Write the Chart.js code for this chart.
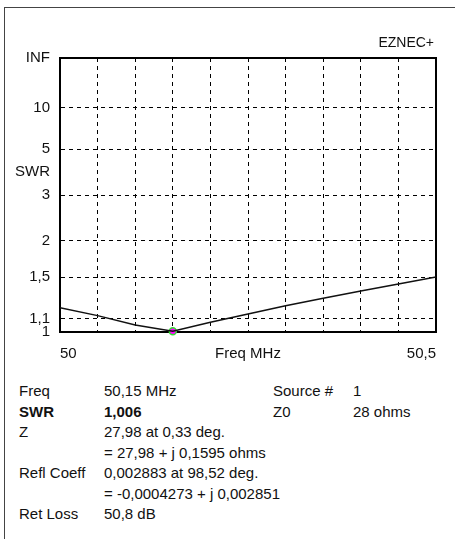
<!DOCTYPE html>
<html>
<head>
<meta charset="utf-8">
<script src="https://cdn.jsdelivr.net/npm/chart.js@4.4.1/dist/chart.umd.min.js"></script>
<style>
    html, body { margin: 0; padding: 0; background: #fff; }
    body { width: 455px; height: 539px; position: relative; overflow: hidden;
           font-family: "Liberation Sans", Arial, sans-serif; color: #111; }
    #frame { position: absolute; left: 4px; top: 7px; width: 460px; height: 540px;
             border-left: 1.5px solid #444; border-top: 1.5px solid #444; }
    #brand { position: absolute; right: 21px; top: 34px; font-size: 14px; line-height: 16px; }
    #mainChart { position: absolute; left: 0; top: 0; }
    #info { position: absolute; left: 19px; top: 381px; font-size: 15px; line-height: 20.5px; }
    #info .row { position: relative; height: 20.5px; white-space: nowrap; }
    #info span { position: absolute; top: 0; }
    #info .b { font-weight: bold; }
</style>
</head>
<body>
<div id="frame"></div>
<canvas id="mainChart" width="455" height="370"></canvas>
<div id="brand">EZNEC+</div>
<div id="info"></div>

<script>
// Frequency sweep (MHz) and SWR
const freqs = [50, 50.05, 50.1, 50.15, 50.2, 50.25, 50.3, 50.35, 50.4, 50.45, 50.5];
const swrValues = [1.195, 1.127, 1.052, 1.006, 1.073, 1.141, 1.212, 1.281, 1.352, 1.425, 1.502];

// Cursor marker
const markerFreq = [50.15];
const markerSwr = [1.006];

// Y ticks (SWR values, INF = Infinity) and their labels
const yTickSwr = [Infinity, 10, 5, 3.81, 3, 2, 1.5, 1.1, 1];
const yTickLabels = ['INF', '10', '5', 'SWR', '3', '2', '1,5', '1,1', '1'];

// X tick labels keyed by frequency
const xTickFreqs = [50, 50.05, 50.1, 50.15, 50.2, 50.25, 50.3, 50.35, 50.4, 50.45, 50.5];
const xTickLabels = ['50', '', '', '', '', 'Freq MHz', '', '', '', '', '50,5'];

// Readout below the chart
const infoRows = [
    ['Freq', '50,15 MHz', 'Source #', '1'],
    ['SWR', '1,006', 'Z0', '28 ohms'],
    ['Z', '27,98 at 0,33 deg.', '', ''],
    ['', '= 27,98 + j 0,1595 ohms', '', ''],
    ['Refl Coeff', '0,002883 at 98,52 deg.', '', ''],
    ['', '= -0,0004273 + j 0,002851', '', ''],
    ['Ret Loss', '50,8 dB', '', '']
];

// EZNEC plots SWR on a reflection-coefficient scale
function rho(swr) {
    if (!isFinite(swr)) return 1;
    return (swr - 1) / (swr + 1);
}

document.addEventListener("DOMContentLoaded", () => {
    const info = document.getElementById('info');
    const colX = [0, 85, 254, 334];
    infoRows.forEach((r, i) => {
        const row = document.createElement('div');
        row.className = 'row';
        r.forEach((txt, c) => {
            if (!txt) return;
            const s = document.createElement('span');
            s.textContent = txt;
            s.style.left = colX[c] + 'px';
            if (i === 1 && c < 2) s.className = 'b';
            row.appendChild(s);
        });
        info.appendChild(row);
    });

    // plot frame, drawn under the curve and marker
    const frameBox = {
        id: 'frameBox',
        beforeDatasetsDraw(chart) {
            const a = chart.chartArea;
            const c = chart.ctx;
            c.save();
            c.setLineDash([]);
            c.strokeStyle = '#000';
            c.lineWidth = 2;
            c.strokeRect(a.left, a.top, a.right - a.left, a.bottom - a.top);
            c.restore();
        }
    };

    const ctx = document.getElementById('mainChart').getContext('2d');
    const tickFont = { family: '"Liberation Sans", Arial, sans-serif', size: 15 };

    new Chart(ctx, {
        type: 'line',
        data: {
            datasets: [{
                data: freqs.map((f, i) => ({ x: f, y: rho(swrValues[i]) })),
                borderColor: '#111',
                borderWidth: 1.5,
                pointRadius: 0,
                tension: 0,
                fill: false
            }, {
                data: markerFreq.map((f, i) => ({ x: f, y: rho(markerSwr[i]) })),
                borderColor: '#33dd33',
                backgroundColor: '#ff00ff',
                borderWidth: 1.5,
                pointRadius: 3.5,
                showLine: false,
                clip: false
            }]
        },
        options: {
            responsive: false,
            animation: false,
            layout: { padding: { left: 0, right: 19, top: 58, bottom: 0 } },
            plugins: { legend: { display: false }, tooltip: { enabled: false } },
            scales: {
                x: {
                    type: 'linear',
                    min: 50,
                    max: 50.5,
                    afterBuildTicks: s => { s.ticks = xTickFreqs.map(v => ({ value: v })); },
                    afterFit: s => { s.height = 38; },
                    grid: {
                        color: '#000',
                        lineWidth: 1,
                        drawTicks: false
                    },
                    border: { display: true, color: '#000', width: 1, dash: [4, 4] },
                    ticks: {
                        autoSkip: false,
                        maxRotation: 0,
                        align: 'inner',
                        padding: 13,
                        color: '#111',
                        font: tickFont,
                        callback: (v, i) => xTickLabels[i]
                    }
                },
                y: {
                    type: 'linear',
                    min: 0,
                    max: 1,
                    afterBuildTicks: s => { s.ticks = yTickSwr.map(v => ({ value: rho(v) })); },
                    afterFit: s => { s.width = 60; },
                    grid: {
                        color: c => (yTickLabels[c.index] === 'SWR' ? 'rgba(0,0,0,0)' : '#000'),
                        lineWidth: 1,
                        drawTicks: false
                    },
                    border: { display: true, color: '#000', width: 1, dash: [4, 4] },
                    ticks: {
                        autoSkip: false,
                        padding: 10,
                        color: '#111',
                        font: tickFont,
                        callback: (v, i) => yTickLabels[i]
                    }
                }
            }
        },
        plugins: [frameBox]
    });
});
</script>
</body>
</html>
